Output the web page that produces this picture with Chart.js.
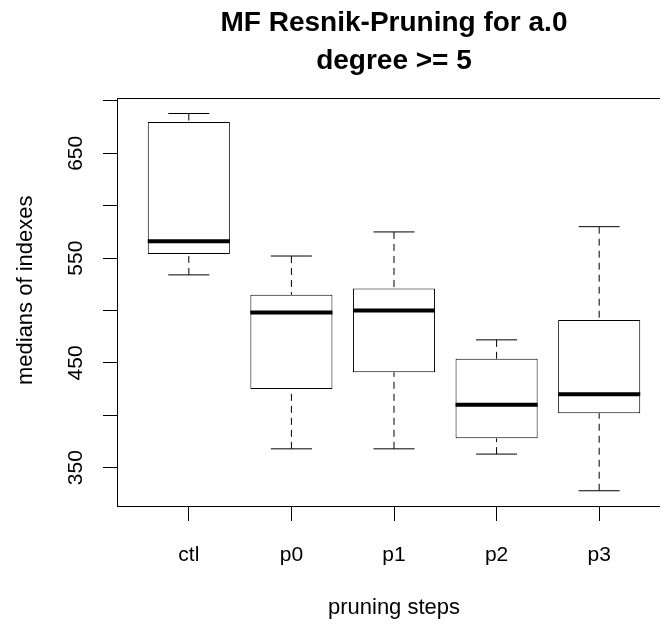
<!DOCTYPE html>
<html>
<head>
<meta charset="utf-8">
<script src="https://cdn.jsdelivr.net/npm/chart.js@4.4.1/dist/chart.umd.min.js"></script>
<style>
  html, body { margin: 0; padding: 0; overflow: hidden; background: #fff; }
  #wrap { position: absolute; left: 0; top: 0; width: 788px; height: 625px; }
</style>
</head>
<body>
<div id="wrap"><canvas id="c" width="788" height="625"></canvas></div>
<script>
// ---- data ----
const categories   = ['ctl', 'p0', 'p1', 'p2', 'p3'];
const whiskerLow   = [534, 368, 368, 363, 328];
const quartile1    = [554, 425, 441, 378, 402];
const medians      = [566, 498, 500, 410, 420];
const quartile3    = [680, 515, 521, 454, 491];
const whiskerHigh  = [688, 552, 575, 472, 580];
const yTickValues  = [350, 400, 450, 500, 550, 600, 650, 700];
const yTickLabels  = [350, 450, 550, 650];
const titleLines   = ['MF Resnik-Pruning for a.0', 'degree >= 5'];
const xTitle       = 'pruning steps';
const yTitle       = 'medians of indexes';

// ---- geometry/style settings ----
const boxHalf = 0.4, capHalf = 0.2;
const FONT = "'Liberation Sans', Arial, sans-serif";

const pos = categories.map((_, i) => i + 1);

const boxData = pos.map((x, i) => ({ x, y: [quartile1[i], quartile3[i]] }));
const medianData = [], whiskerData = [], capData = [];
pos.forEach((x, i) => {
  medianData.push({ x: x - boxHalf, y: medians[i] }, { x: x + boxHalf, y: medians[i] }, { x, y: null });
  whiskerData.push({ x, y: whiskerHigh[i] }, { x, y: quartile3[i] }, { x, y: null });
  whiskerData.push({ x, y: whiskerLow[i] }, { x, y: quartile1[i] }, { x, y: null });
  capData.push({ x: x - capHalf, y: whiskerHigh[i] }, { x: x + capHalf, y: whiskerHigh[i] }, { x, y: null });
  capData.push({ x: x - capHalf, y: whiskerLow[i] }, { x: x + capHalf, y: whiskerLow[i] }, { x, y: null });
});

const lineBase = { type: 'line', pointRadius: 0, fill: false, tension: 0, spanGaps: false, borderColor: '#000' };

const framePlugin = {
  id: 'frame',
  afterLayout(chart) {
    // centre the main title over the plotting region (as R does)
    const t = chart.titleBlock;
    if (t) { t.left = chart.chartArea.left; t.right = chart.chartArea.right; t.width = t.right - t.left; }
  },
  afterDatasetsDraw(chart) {
    const { ctx, chartArea: a } = chart;
    ctx.save();
    ctx.strokeStyle = '#000';
    ctx.lineWidth = 1;
    const l = Math.round(a.left) + 0.5, t = Math.round(a.top) + 0.5;
    const b = Math.round(a.bottom) - 0.5, r = Math.round(a.right) - 0.5;
    ctx.strokeRect(l, t, r - l, b - t);
    ctx.restore();
  }
};

new Chart(document.getElementById('c'), {
  type: 'bar',
  data: {
    datasets: [
      Object.assign({}, lineBase, { data: medianData, borderWidth: 4, borderCapStyle: 'butt', order: 0 }),
      Object.assign({}, lineBase, { data: capData, borderWidth: 1, order: 1 }),
      Object.assign({}, lineBase, { data: whiskerData, borderWidth: 1, borderDash: [7, 5], order: 2 }),
      { type: 'bar', data: boxData, backgroundColor: '#fff', borderColor: '#000', borderWidth: 1,
        borderSkipped: false, categoryPercentage: 1, barPercentage: 0.8, order: 3 }
    ]
  },
  options: {
    responsive: false,
    devicePixelRatio: 1,
    animation: false,
    layout: { padding: { left: 0, top: 0, right: 117, bottom: 0 } },
    plugins: {
      legend: { display: false },
      tooltip: { enabled: false },
      title: {
        display: true,
        text: titleLines,
        color: '#000',
        font: { family: FONT, size: 28, weight: 'bold', lineHeight: '38px' },
        padding: { top: 4, bottom: 18 }
      }
    },
    scales: {
      x: {
        type: 'linear',
        offset: false,
        min: 0.3, max: 5.7,
        afterBuildTicks: s => { s.ticks = pos.map(v => ({ value: v })); },
        afterFit: s => { s.height = 118; },
        ticks: {
          autoSkip: false, maxRotation: 0, minRotation: 0,
          color: '#000', padding: 22,
          font: { family: FONT, size: 21 },
          callback: v => categories[v - 1]
        },
        grid: { display: true, offset: false, drawOnChartArea: false, drawTicks: true, tickLength: 14, color: '#000' },
        border: { display: false },
        title: { display: true, text: xTitle, color: '#000', font: { family: FONT, size: 22, lineHeight: 1 }, padding: { top: 0, bottom: 6 } }
      },
      y: {
        type: 'linear',
        min: 312.5, max: 702.8,
        afterBuildTicks: s => { s.ticks = yTickValues.map(v => ({ value: v })); },
        afterFit: s => { s.width = 117; },
        ticks: {
          autoSkip: false, minRotation: 90, maxRotation: 90, crossAlign: 'center',
          color: '#000', padding: 9,
          font: { family: FONT, size: 21 },
          callback: v => yTickLabels.includes(v) ? String(v) : ''
        },
        grid: { display: true, drawOnChartArea: false, drawTicks: true, tickLength: 14, color: '#000' },
        border: { display: false },
        title: { display: true, text: '    ' + yTitle, color: '#000', font: { family: FONT, size: 22, lineHeight: 1 }, padding: { top: 14.5, bottom: 0 } }
      }
    }
  },
  plugins: [framePlugin]
});
</script>
</body>
</html>
